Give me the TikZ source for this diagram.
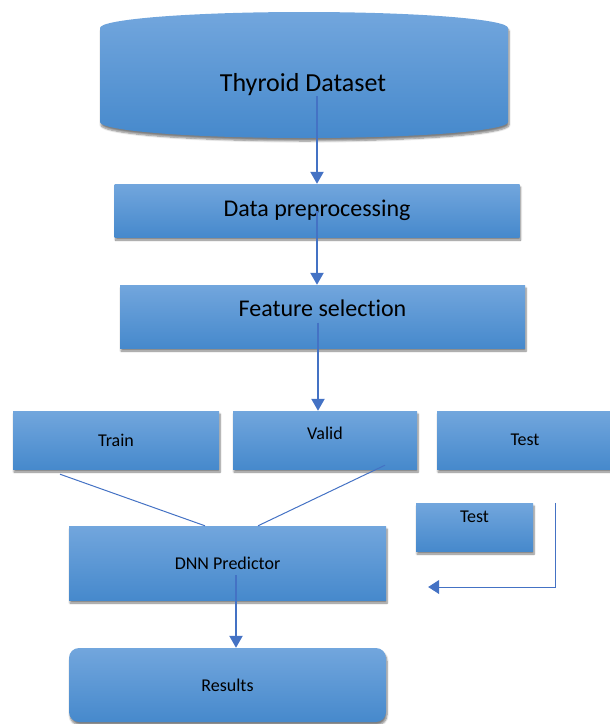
\documentclass[tikz,border=0pt]{standalone}
\usepackage{fontspec}
\setmainfont{Carlito}[Ligatures=NoCommon]
\usetikzlibrary{arrows.meta,positioning,shadows,shadows.blur}
\definecolor{boxtop}{RGB}{114,166,221}
\definecolor{boxbot}{RGB}{70,137,204}
\definecolor{flowblue}{RGB}{68,114,196}

\begin{document}
\begin{tikzpicture}[x=1pt,y=1pt,
		basic/.style  = {rectangle, inner sep=0pt, align=center, top color=boxtop, bottom color=boxbot,
			blur shadow={shadow xshift=1pt, shadow yshift=-3pt, shadow blur steps=6, shadow opacity=50}},
		stage/.style  = {basic, minimum width=405pt, font=\fontsize{24}{28}\selectfont},
		split/.style  = {basic, minimum height=58pt, font=\fontsize{18}{21}\selectfont},
		model/.style  = {basic, minimum width=317pt, minimum height=74pt, font=\fontsize{18}{22}\selectfont},
		flow/.style   = {draw=flowblue, line width=2.2pt, -{Triangle[width=13pt,length=12pt]}},
		link/.style   = {draw=flowblue, line width=1pt},
		>=latex]
		
		\useasboundingbox (0,0) rectangle (610,-724);
		
		% the data base, drawn as a flat can
		\path[top color=boxtop, bottom color=boxbot,
			blur shadow={shadow xshift=1pt, shadow yshift=-3pt, shadow blur steps=6, shadow opacity=50}]
			(100,-28) -- (100,-122) arc[start angle=180, end angle=360, x radius=204pt, y radius=16pt]
			-- (508,-28) arc[start angle=0, end angle=180, x radius=204pt, y radius=16pt] -- cycle;
		\node[font=\fontsize{26}{30}\selectfont, inner sep=0pt] (dset) at (303,-85) {Thyroid Dataset};
		
		% the main chain
		\node[stage, minimum height=53pt] (data) at (317,-210.5) {Data preprocessing};
		\node[stage, minimum height=63pt, text depth=16pt] (feat) at (322.5,-316.5) {Feature selection};
		
		% the three splits
		\begin{scope}[every node/.style={split}]
			\node[minimum width=206pt] (train) at (116,-440) {Train};
			\node[minimum width=184pt, text depth=14pt] (valid) at (325,-440) {Valid};
			\node[minimum width=176pt] (test) at (525,-440) {Test};
		\end{scope}
		\node[split, minimum width=117pt, minimum height=48pt, text depth=20pt] (test2) at (474.5,-527) {Test};
		
		\node[model] (dnn) at (227.5,-563) {DNN Predictor};
		\node[model, rounded corners=10pt] (results) at (227.5,-685) {Results};
		
		% arrows down the chain
		\draw[flow] (dset.south -| data.north) -- (data.north);
		\draw[flow] (data.center) -- (data.center |- feat.north);
		\draw[flow] ([xshift=-4.5pt,yshift=-6pt]feat.center) -- ([xshift=-4.5pt]feat.center |- valid.north);
		\draw[flow] ([xshift=8.5pt,yshift=-12pt]dnn.center) -- ([xshift=8.5pt]dnn.center |- results.north);
		
		% lines into the predictor
		\draw[link] ([xshift=-56pt,yshift=-5pt]train.south) -- ([xshift=-22.5pt]dnn.north);
		\draw[link] ([xshift=60pt,yshift=4pt]valid.south) -- ([xshift=30.5pt]dnn.north);
		
		\draw[link, -{Triangle[width=14pt,length=11pt]}] ([xshift=22pt]test2.north east) |- ([xshift=42pt,yshift=-24pt]dnn.east);
		
	\end{tikzpicture}
\end{document}
